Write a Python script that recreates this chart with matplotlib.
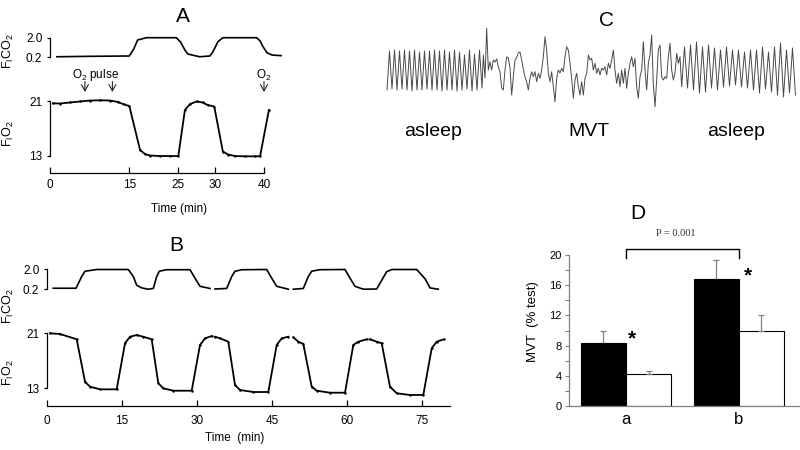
import numpy as np
import matplotlib
matplotlib.use('Agg')
import matplotlib.pyplot as plt

plt.rcParams['font.family'] = ['Liberation Sans', 'DejaVu Sans']
plt.rcParams['mathtext.fontset'] = 'custom'
plt.rcParams['mathtext.rm'] = 'Liberation Sans'
plt.rcParams['mathtext.it'] = 'Liberation Sans:italic'
plt.rcParams['mathtext.bf'] = 'Liberation Sans:bold'

nan = np.nan

# ---------------- Panel A data (time in min) ----------------
a_co2_t = [1.3, 7.6, 15.0, 15.9, 16.7, 18.5, 24.6, 25.3, 25.9, 26.3, 27.9, 29.3, 29.7,
           30.6, 31.6, 38.5, 39.2, 39.8, 40.6, 41.6, 43.5]
a_co2_v = [0.25, 0.29, 0.32, 0.96, 1.79, 2.0, 2.0, 1.61, 0.87, 0.50, 0.25, 0.32, 0.69,
           1.63, 2.0, 2.0, 1.70, 1.17, 0.62, 0.41, 0.35]
a_o2_t = [0.57, 1.9, 3.8, 5.7, 7.6, 9.5, 11.35, 12.9, 14.0, 15.0, 17.2, 18.2, 19.2, 21.3,
          23.4, 25.0, 25.9, 26.6, 27.5, 28.3, 29.0, 29.9, 31.6, 32.7, 34.1, 36.1, 38.2,
          39.2, 41.0]
a_o2_v = [20.66, 20.63, 20.78, 20.93, 21.07, 21.1, 21.07, 20.85, 20.49, 20.27, 13.8, 13.22,
          13.0, 12.92, 12.92, 12.92, 19.68, 20.56, 20.93, 20.78, 20.41, 20.19, 13.58, 13.14,
          12.92, 12.88, 12.88, 12.89, 19.68]
a_xticks = [0, 15, 25, 30, 40]
a_pulse_t = [6.6, 11.8]
a_o2_mark_t = 40

# ---------------- Panel B data (time in min) ----------------
b_co2_t = [1.26, 5.8, 6.94, 7.6, 9.94, 16.26, 17.26, 17.94, 18.94, 20.26, 21.26, 21.94,
           22.46, 23.94, 28.6, 29.6, 30.6, 32.6, nan, 33.6, 35.94, 36.94, 37.6, 39.0,
           43.94, 44.94, 45.94, 48.26, nan, 49.26, 51.26, 52.26, 52.94, 54.5, 59.6, 60.6,
           61.6, 63.26, 65.94, 67.94, 69.0, 73.94, 75.6, 76.6, 78.26]
b_co2_v = [0.27, 0.27, 1.35, 1.84, 2.0, 2.0, 1.35, 0.55, 0.3, 0.18, 0.25, 1.35, 1.84,
           1.98, 1.98, 1.2, 0.45, 0.25, nan, 0.2, 0.25, 1.35, 1.84, 1.98, 2.0, 1.2, 0.45,
           0.18, nan, 0.18, 0.25, 1.35, 1.84, 1.98, 2.0, 1.2, 0.45, 0.18, 0.2, 1.8, 2.0,
           2.0, 1.15, 0.3, 0.18]
b_o2_t = [0.6, 2.6, 5.94, 7.6, 8.6, 10.6, 13.94, 15.6, 16.6, 17.94, 19.26, 20.94, 22.26,
          23.26, 25.26, 28.94, 30.6, 31.6, 32.94, nan, 33.6, 34.6, 36.26, 37.6, 38.6,
          41.26, 44.26, 45.94, 46.94, 48.26, nan, 49.26, 50.26, 51.26, 52.94, 53.94, 56.6,
          59.6, 61.26, 62.26, 63.94, nan, 64.6, 65.94, 66.94, 68.6, 69.94, 72.6, 75.26,
          76.94, 77.94, 79.4]
b_o2_v = [21.0, 20.9, 20.13, 13.96, 13.23, 12.85, 12.85, 19.55, 20.5, 20.75, 20.5, 20.13,
          13.73, 13.0, 12.65, 12.65, 19.3, 20.27, 20.6, nan, 20.5, 20.27, 19.78, 13.48,
          12.75, 12.46, 12.46, 19.3, 20.27, 20.5, nan, 20.42, 19.78, 19.45, 13.23, 12.65,
          12.36, 12.36, 19.3, 19.78, 20.13, nan, 20.13, 19.78, 19.55, 13.23, 12.27, 12.03,
          12.03, 18.82, 19.78, 20.13]
b_xticks = [0, 15, 30, 45, 60, 75]

# ---------------- Panel C data (breathing trace, arbitrary units) ----------------
c_left_peaks = [49, 50, 49, 50, 49, 50, 48, 49, 49, 50, 49, 50, 48, 50, 48, 45, 50, 46, 50]
c_left_troughs = [10, 11, 10, 11, 10, 9, 10, 10, 11, 10, 10, 9, 10, 10, 9, 10, 11, 9, 10, 12]
c_mvt = [45, 22, 71.7, 30, 38.3, 30, 40, 38, 41, 33, 28, 12, 10, 30, 43, 42, 32, 5, 23.3,
         40, 42.5, 47, 48, 40, 31, 23, 18, 10, 21.7, 28.3, 23.3, 28.3, 18.3, 26.7, 21.7,
         30, 43.3, 63.3, 50, 26.7, 18.3, 28.3, 13.3, -1.7, 21.7,
         30, 27, 31.7, 28.3, 43.3, 53.3, 50, 36.7, 21.7, 1.7, 20, 26.7, 13.3, 5, 18.3, 5,
         21.7, 26.7, 45, 40, 41.7, 30, 36.7, 26.7, 31.7, 25, 31.7, 30, 33.3, 25, 36.7,
         31.7, 40, 50, 30, 16.7, 26.7, 13.3, 30, 16.7, 31.7, 11.7, 26.7, 36.7,
         43.3, 33.3, 41.7, 13.3, 1.7, 23.3, 30, 58.3, 30, 10, 36.7, 45, 65, 15, -6.7, 20,
         50, 55, 23.3, 20, 23.3, 21.7, 43.3, 56.7, 30, 20, 26.7, 46.7, 36.7, 43.3, 13.3]
c_right_peaks = [53, 55, 58, 53, 55, 52, 50, 53, 50, 50, 48, 50, 50, 53, 48, 53, 57, 50, 52]
c_right_troughs = [12, 10, 7, 8, 12, 10, 13, 14, 15, 13, 12, 10, 7, 11, 8, 5, 3, 7, 5]
c_left_start, c_left_step = 1.4, 0.5      # s
c_mvt_start, c_mvt_step = 20.667, 1 / 3   # s
c_right_start, c_right_step = 60.9, 0.6   # s
c_labels = ['asleep', 'MVT', 'asleep']

# ---------------- Panel D data ----------------
d_groups = ['a', 'b']
d_black = [8.4, 16.8]
d_black_err = [1.6, 2.6]
d_white = [4.3, 9.9]
d_white_err = [0.3, 2.1]
d_p_text = 'P = 0.001'

# ---------------- figure helpers ----------------
W, H = 800, 450
fig = plt.figure(figsize=(8, 4.5), dpi=100)


def box(x0, y0, x1, y1):
    return fig.add_axes([x0 / W, 1 - y1 / H, (x1 - x0) / W, (y1 - y0) / H])


def vlim(v1, p1, v2, p2, ptop, pbot):
    k = (v2 - v1) / (p2 - p1)
    return (v1 + (pbot - p1) * k, v1 + (ptop - p1) * k)


def txt(x, y, s, **kw):
    kw.setdefault('ha', 'center')
    kw.setdefault('va', 'center')
    return fig.text(x / W, 1 - y / H, s, **kw)


def trace_style(ax, bounds, ticks, labels, bottom=False):
    ax.patch.set_visible(False)
    for s in ['top', 'right']:
        ax.spines[s].set_visible(False)
    ax.spines['bottom'].set_visible(bottom)
    ax.spines['left'].set_bounds(*bounds)
    ax.spines['left'].set_linewidth(0.9)
    ax.set_yticks(ticks)
    ax.set_yticklabels(labels)
    ax.tick_params(axis='y', direction='out', length=2.5, width=0.9, labelsize=8.5, pad=3)


# ---------- Panel A (nonuniform time axis, as drawn in the original) ----------
TK = [-100, 0, 15, 25, 30, 40, 100]
PK = [-527, 0, 79.3, 128.3, 165, 214, 508]


def fwd(t):
    return np.interp(t, TK, PK)


def inv(p):
    return np.interp(p, PK, TK)


A_X0 = 50
a_xmax = 45
a_x1 = A_X0 + fwd(a_xmax)

axA1 = box(A_X0, 30, a_x1, 62)
axA1.set_xscale('function', functions=(fwd, inv))
axA1.set_xlim(0, a_xmax)
axA1.set_ylim(*vlim(2.0, 37.7, 0.2, 57.3, 30, 62))
axA1.plot(a_co2_t, a_co2_v, color='k', lw=1.2)
trace_style(axA1, (0.2, 2.0), [0.2, 2.0], ['0.2', '2.0'])
axA1.set_xticks([])

axA2 = box(A_X0, 95, a_x1, 172.7)
axA2.set_xscale('function', functions=(fwd, inv))
axA2.set_xlim(0, a_xmax)
axA2.set_ylim(*vlim(21, 101, 13, 155.5, 95, 172.7))
axA2.plot(a_o2_t, a_o2_v, color='k', lw=1.3, marker='.', ms=1.5)
trace_style(axA2, (13, 21), [13, 21], ['13', '21'], bottom=True)
axA2.spines['bottom'].set_bounds(0, 40)
axA2.spines['bottom'].set_linewidth(0.9)
axA2.set_xticks(a_xticks)
axA2.set_xticklabels([str(t) for t in a_xticks])
axA2.tick_params(axis='x', direction='in', length=4, width=0.9, labelsize=8.5, pad=4.5)

txt(183, 16, 'A', fontsize=15)
txt(8.5, 51.5, r'F$_{\rm I}$CO$_{\rm 2}$', rotation=90, fontsize=9)
txt(8.5, 134, r'F$_{\rm I}$O$_{\rm 2}$', rotation=90, fontsize=9)
txt(179, 209, 'Time (min)', fontsize=8.5)
txt(95.5, 75, r'O$_{\rm 2}$ pulse', fontsize=8.5)
txt(263.3, 75, r'O$_{\rm 2}$', fontsize=8.5)
for t in a_pulse_t + [a_o2_mark_t]:
    xf = (A_X0 + fwd(t)) / W
    fig.add_artist(matplotlib.patches.FancyArrowPatch(
        (xf, 1 - 81.5 / H), (xf, 1 - 92 / H), transform=fig.transFigure,
        arrowstyle='->,head_length=0.45,head_width=0.25', lw=0.8, color='#222',
        mutation_scale=10, shrinkA=0, shrinkB=0))

# ---------- Panel B ----------
B_X0, B_X1 = 47, 450
b_xlim = (0, (B_X1 - B_X0) / 5.0)

axB1 = box(B_X0, 262, B_X1, 296)
axB1.set_xlim(*b_xlim)
axB1.set_ylim(*vlim(2.0, 269.5, 0.2, 289, 262, 296))
axB1.plot(b_co2_t, b_co2_v, color='k', lw=1.2)
trace_style(axB1, (0.2, 2.0), [0.2, 2.0], ['0.2', '2.0'])
axB1.set_xticks([])

axB2 = box(B_X0, 325, B_X1, 405.7)
axB2.set_xlim(*b_xlim)
axB2.set_ylim(*vlim(21, 333.3, 13, 388.3, 325, 405.7))
axB2.plot(b_o2_t, b_o2_v, color='k', lw=1.3, marker='.', ms=1.5)
trace_style(axB2, (13, 21), [13, 21], ['13', '21'], bottom=True)
axB2.spines['bottom'].set_linewidth(0.9)
axB2.set_xticks(b_xticks)
axB2.set_xticklabels([str(t) for t in b_xticks])
axB2.tick_params(axis='x', direction='in', length=4, width=0.9, labelsize=8.5, pad=7)

txt(176, 246, 'B', fontsize=15)
txt(8.5, 306, r'F$_{\rm I}$CO$_{\rm 2}$', rotation=90, fontsize=9)
txt(8.5, 373, r'F$_{\rm I}$O$_{\rm 2}$', rotation=90, fontsize=9)
txt(235, 438, 'Time  (min)', fontsize=8.5)

# ---------- Panel C ----------
left_vals = []
for i in range(len(c_left_peaks)):
    left_vals += [c_left_troughs[i], c_left_peaks[i]]
left_vals.append(c_left_troughs[-1])
right_vals = []
for i in range(len(c_right_peaks)):
    right_vals += [c_right_peaks[i], c_right_troughs[i]]

c_t = np.concatenate([
    c_left_start + c_left_step * np.arange(len(left_vals)),
    c_mvt_start + c_mvt_step * np.arange(len(c_mvt)),
    c_right_start + c_right_step * np.arange(len(right_vals)),
])
c_v = np.concatenate([left_vals, c_mvt, right_vals])

axC = box(380, 20, 800, 110)
axC.set_xlim(0, 84)
axC.set_ylim(-10, 80)
axC.plot(c_t, c_v, color='#4a4a4a', lw=0.7)
axC.axis('off')
txt(607, 20, 'C', fontsize=15)
for x, s in zip([433, 589, 736], c_labels):
    txt(x, 132, s, fontsize=14)

# ---------- Panel D ----------
axD = box(569, 255, 800, 406)
xg = np.arange(len(d_groups))
bw = 0.4
axD.bar(xg - bw / 2, d_black, width=bw, color='k', edgecolor='k', lw=0.8, zorder=2)
axD.bar(xg + bw / 2, d_white, width=bw, color='white', edgecolor='k', lw=0.8, zorder=2)
axD.errorbar(xg - bw / 2, d_black, yerr=[np.zeros(2), d_black_err], fmt='none',
             ecolor='#808080', elinewidth=0.9, capsize=2, capthick=0.9, zorder=1)
axD.errorbar(xg + bw / 2, d_white, yerr=[np.zeros(2), d_white_err], fmt='none',
             ecolor='#808080', elinewidth=0.9, capsize=2, capthick=0.9, zorder=3)
axD.set_xlim(-0.506, 1.544)
axD.set_ylim(0, 20)
for s in ['top', 'right']:
    axD.spines[s].set_visible(False)
for s in ['left', 'bottom']:
    axD.spines[s].set_color('#808080')
    axD.spines[s].set_linewidth(0.9)
axD.set_yticks(np.arange(0, 21, 4))
axD.set_yticks(np.arange(2, 20, 4), minor=True)
axD.tick_params(axis='y', which='both', direction='out', length=3, width=0.8,
                color='#808080', labelsize=8, pad=2)
axD.set_xticks(xg)
axD.set_xticklabels(d_groups)
axD.tick_params(axis='x', length=0, labelsize=12, pad=4.5)
axD.patch.set_visible(False)

axD.plot([0, 0, 1, 1], [19.65, 20.8, 20.8, 19.65], color='k', lw=1, clip_on=False)
axD.text(0.44, 22.8, d_p_text, ha='center', va='center', fontsize=7.5,
         family='Liberation Serif', color='#333')
axD.text(0.05, 8.17, '*', ha='center', va='baseline', fontsize=15, fontweight='bold')
axD.text(1.08, 16.57, '*', ha='center', va='baseline', fontsize=15, fontweight='bold')
txt(638, 213, 'D', fontsize=15)
txt(533, 322, 'MVT  (% test)', rotation=90, fontsize=9.5)

fig.savefig('out.png', dpi=100)
